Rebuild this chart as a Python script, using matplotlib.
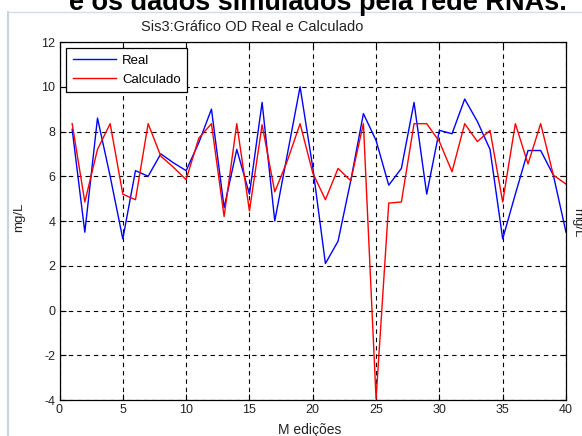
import numpy as np
import matplotlib
matplotlib.use("Agg")
import matplotlib.pyplot as plt

plt.rcParams["font.family"] = ["Liberation Sans", "DejaVu Sans"]
plt.rcParams["axes.unicode_minus"] = False

# medições 1..40: oxigênio dissolvido real e calculado pela rede (mg/L)
medicoes = list(range(1, 41))
od_real = [8.1, 3.5, 8.6, 6.0, 3.2, 6.25, 6.0, 7.0, 6.6, 6.25,
           7.5, 9.0, 4.6, 7.2, 5.2, 9.3, 4.0, 7.0, 10.0, 6.4,
           2.1, 3.1, 5.8, 8.8, 7.6, 5.6, 6.35, 9.3, 5.2, 8.05,
           7.9, 9.45, 8.45, 7.2, 3.2, 5.2, 7.15, 7.15, 6.05, 3.5]
od_calc = [8.35, 4.85, 7.2, 8.35, 5.2, 4.95, 8.35, 6.9, 6.4, 5.85,
           7.7, 8.35, 4.2, 8.35, 4.45, 8.3, 5.3, 6.7, 8.35, 6.15,
           4.95, 6.35, 5.8, 8.35, -3.95, 4.8, 4.85, 8.35, 8.35, 7.55,
           6.2, 8.35, 7.55, 8.05, 4.85, 8.35, 6.55, 8.35, 6.05, 5.65]

W, H = 582, 436
fig = plt.figure(figsize=(W / 100, H / 100), dpi=100)
fig.patch.set_facecolor("white")

# moldura clara em volta da figura
fig.add_artist(plt.Line2D([7.5 / W, 7.5 / W], [0, 1 - 12 / H], color="#c9d3e0", lw=1.5))
fig.add_artist(plt.Line2D([7.5 / W, 1], [1 - 12 / H, 1 - 12 / H], color="#d5dce6", lw=1.0))

# legenda da figura (cortada no topo)
fig.text(318 / W, 1 - 10 / H, "e os dados simulados pela rede RNAs.",
         ha="center", va="baseline", fontsize=19.5, fontweight="bold", color="black")

ax = fig.add_axes([59.5 / W, 1 - 400 / H, 506.5 / W, 358 / H])
ax.plot(medicoes, od_real, color="#0000ff", lw=1.0, label="Real")
ax.plot(medicoes, od_calc, color="#ff0000", lw=1.0, label="Calculado")

ax.set_xlim(0, 40)
ax.set_ylim(-4, 12)
ax.set_xticks(np.arange(0, 41, 5))
ax.set_yticks(np.arange(-4, 13, 2))
ax.grid(True, color="black", linestyle=(0, (4, 3.5)), lw=0.8)
ax.tick_params(direction="in", top=True, right=True, length=4, width=0.8,
               labelsize=9, labelcolor="#222222", pad=3)
for s in ax.spines.values():
    s.set_color("black")
    s.set_linewidth(0.9)

leg = ax.legend(loc="upper left", bbox_to_anchor=(0.013, 0.983), borderaxespad=0,
                fancybox=False, edgecolor="black", framealpha=1, fontsize=9.5,
                handlelength=3.3, handletextpad=0.45, labelspacing=0.5, borderpad=0.5)
leg.get_frame().set_linewidth(0.9)

fig.text(252 / W, 1 - 27 / H, "Sis3:Gráfico OD Real e Calculado",
         ha="center", va="center", fontsize=10.5, color="#222222")
fig.text(310 / W, 1 - 430 / H, "M edições", ha="center", va="center",
         fontsize=10, color="#222222")
fig.text(19 / W, 1 - 217 / H, "mg/L", ha="center", va="center", rotation=90,
         fontsize=9.5, color="#222222")
fig.text(577 / W, 1 - 223 / H, "mg/L", ha="center", va="center", rotation=-90,
         fontsize=9.5, color="#222222")

fig.savefig("out.png", dpi=100)
